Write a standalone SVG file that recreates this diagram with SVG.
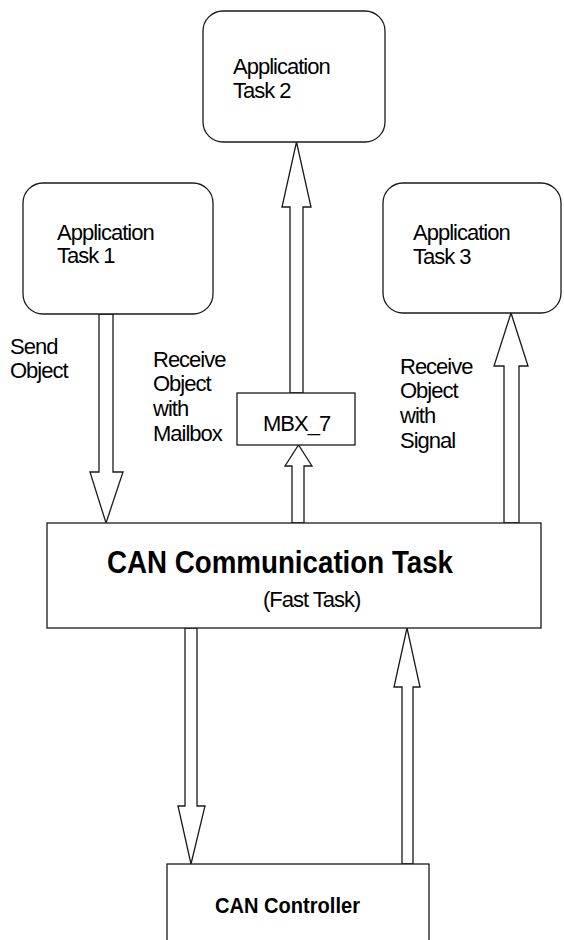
<svg xmlns="http://www.w3.org/2000/svg" width="564" height="940" viewBox="0 0 564 940">
<style>
.box{fill:#fff;stroke:#1a1a1a;stroke-width:1.3}
.arr{fill:#fff;stroke:#1a1a1a;stroke-width:1.3;stroke-linejoin:miter}
.t{font-family:"Liberation Sans",Arial,sans-serif;font-size:22px;letter-spacing:-1px;fill:#000}
.b{font-family:"Liberation Sans",Arial,sans-serif;font-weight:bold;fill:#000}
</style>
<rect width="564" height="940" fill="#fff"/>
<g id="connectors">
<path class="arr" d="M99,314 L113,314 L113,472 L123,472 L106,523 L90,472 L99,472 Z"/>
<path class="arr" d="M290,393 L290,207 L282,207 L296.5,142 L311,207 L303,207 L303,393 Z"/>
<path class="arr" d="M292,523 L292,466 L285,466 L298.5,445 L312,466 L304,466 L304,523 Z"/>
<path class="arr" d="M504,523 L504,366 L494,366 L511,313 L528,366 L519,366 L519,523 Z"/>
<path class="arr" d="M185,628 L197,628 L197,806 L205,806 L191,864 L178,806 L185,806 Z"/>
<path class="arr" d="M402,864 L402,687 L394,687 L407,628 L420,687 L413,687 L413,864 Z"/>
</g>
<g id="task1">
<rect class="box" x="23" y="183" width="190" height="131" rx="20"/>
<text class="t" x="57" y="240">Application</text>
<text class="t" x="57" y="263">Task 1</text>
</g>
<g id="task2">
<rect class="box" x="203" y="11" width="182" height="131" rx="20"/>
<text class="t" x="233" y="74">Application</text>
<text class="t" x="233" y="98">Task 2</text>
</g>
<g id="task3">
<rect class="box" x="383" y="183" width="178" height="130" rx="20"/>
<text class="t" x="413" y="240">Application</text>
<text class="t" x="413" y="264">Task 3</text>
</g>
<g id="mbx7">
<rect class="box" x="237" y="393" width="118" height="52"/>
<text class="t" x="263" y="431">MBX_7</text>
</g>
<g id="can-comm">
<rect class="box" x="47" y="523" width="494" height="105"/>
<text class="b" x="107" y="573" font-size="32" textLength="346" lengthAdjust="spacingAndGlyphs">CAN Communication Task</text>
<text class="t" x="263" y="607" font-size="20" letter-spacing="-0.5">(Fast Task)</text>
</g>
<g id="can-ctrl">
<rect class="box" x="167" y="864" width="262" height="100"/>
<text class="b" x="215" y="913" font-size="22" textLength="145" lengthAdjust="spacingAndGlyphs">CAN Controller</text>
</g>
<g id="labels">
<text class="t" x="10" y="354">Send</text>
<text class="t" x="10" y="378">Object</text>
<text class="t" x="153" y="367">Receive</text>
<text class="t" x="153" y="391">Object</text>
<text class="t" x="153" y="416">with</text>
<text class="t" x="153" y="441">Mailbox</text>
<text class="t" x="400" y="374">Receive</text>
<text class="t" x="400" y="398">Object</text>
<text class="t" x="400" y="423">with</text>
<text class="t" x="400" y="448">Signal</text>
</g>
</svg>
